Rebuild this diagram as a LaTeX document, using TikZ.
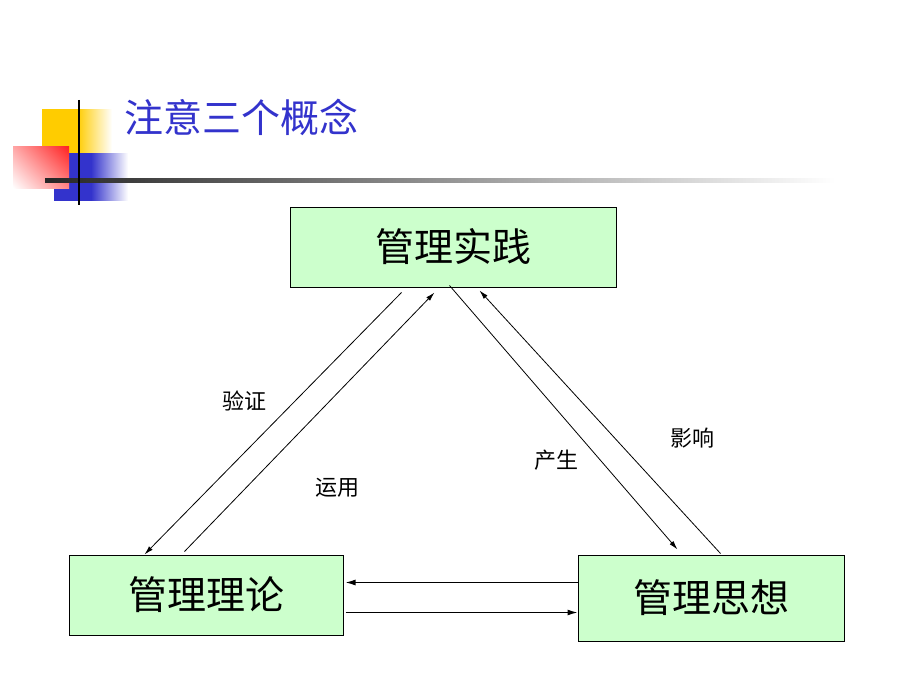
\documentclass[tikz,border=0pt]{standalone}
\usepackage{fontspec}
\newfontfamily\cjk{Noto Sans CJK SC}
\usetikzlibrary{arrows.meta,calc,shadings}
\definecolor{boxgreen}{HTML}{CCFFCC}
\definecolor{titleblue}{HTML}{3333CC}
\definecolor{decoyellow}{HTML}{FFCC00}
\definecolor{decored}{HTML}{FF2020}
\definecolor{decoblue}{HTML}{3333CC}
\begin{document}
\begin{tikzpicture}[x=1pt,y=-1pt,
  conceptbox/.style={draw=black,line width=1pt,fill=boxgreen,inner sep=0pt,font=\cjk\fontsize{39}{44}\selectfont},
  edgelabel/.style={font=\cjk\fontsize{22}{26}\selectfont,inner sep=0pt},
  thinarrow/.style={line width=0.8pt,-{Latex[length=9pt,width=5pt]}},
  flatarrow/.style={line width=1.2pt,-{Latex[length=10pt,width=6pt]}}]
\useasboundingbox (0,0) rectangle (920,690);
% decoration
\shade[left color=decoyellow,right color=white,middle color=decoyellow] (42,110) rectangle (112,168);
\shade[left color=decoblue,right color=white,middle color=decoblue] (54,153) rectangle (128,200);
\shade[upper right=decored,upper left=decored!40,lower right=decored!55,lower left=white] (13,146) rectangle (69,188);
\shade[left color=black!85,right color=white] (45,178) rectangle (835,182);
\draw[line width=2.5pt,black] (79,100) -- (79,205);
\node[anchor=west,text=titleblue,font=\cjk\fontsize{39}{44}\selectfont,inner sep=0pt] (title) at (124,117) {注意三个概念};
% boxes
\node[conceptbox,minimum width=326pt,minimum height=80pt] (p) at (453,247) {管理实践};
\node[conceptbox,minimum width=274pt,minimum height=80pt] (t) at (206,595) {管理理论};
\node[conceptbox,minimum width=266pt,minimum height=86pt] (s) at (711,598) {管理思想};
% connectors
\draw[thinarrow] ($(p.south west)+(112,5)$) -- ($(t.north west)+(76,0)$);
\draw[thinarrow] ($(t.north west)+(116,-3)$) -- ($(p.south west)+(145,5)$);
\draw[thinarrow] ($(p.south west)+(160,-2)$) -- ($(s.north west)+(100,-5)$);
\draw[thinarrow] ($(s.north west)+(143,-1)$) -- ($(p.south west)+(190,3)$);
\draw[flatarrow] ($(s.north west)+(0,28)$) -- ($(t.north east)+(2,28)$);
\draw[flatarrow] ($(t.north east)+(2,58)$) -- ($(s.north west)+(0,58)$);
% labels
\node[edgelabel] (l1) at (244,401) {验证};
\node[edgelabel] (l2) at (337,488) {运用};
\node[edgelabel] (l3) at (556,460) {产生};
\node[edgelabel] (l4) at (692,438) {影响};
\end{tikzpicture}
\end{document}
